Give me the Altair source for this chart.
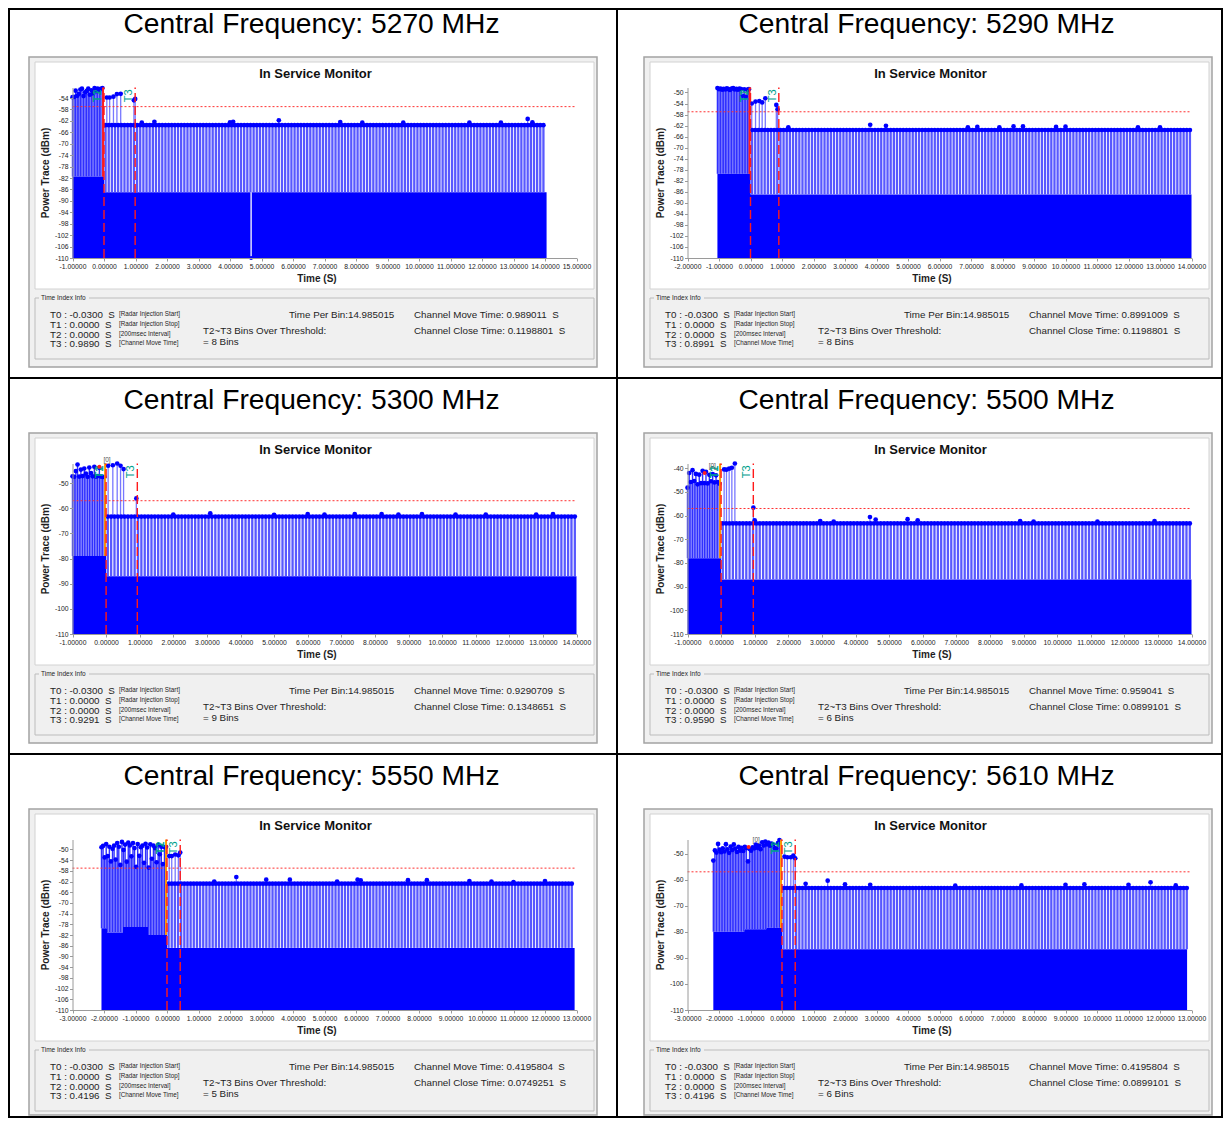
import altair as alt
import numpy as np
import pandas as pd

FONT = "Liberation Sans"

# ---------------- values ----------------
freqs = [5270, 5290, 5300, 5500, 5550, 5610]
x_min = [-1, -2, -1, -1, -3, -3]
x_max = [15, 14, 14, 14, 13, 13]
y_max = [-50.3, -48.2, -42.2, -38.0, -46.3, -44.6]
y_tick_top = [-54, -50, -50, -40, -50, -50]
y_tick_step = [4, 4, 10, 10, 4, 10]
threshold_dbm = -57.0
t0_time = -0.03
t1_time = 0.0
t2_time = 0.0
t3_time = [0.9890, 0.8991, 0.9291, 0.9590, 0.4196, 0.4196]
move_time = ["0.989011", "0.8991009", "0.9290709", "0.959041", "0.4195804", "0.4195804"]
close_time = ["0.1198801", "0.1198801", "0.1348651", "0.0899101", "0.0749251", "0.0899101"]
bins_over = [8, 8, 9, 6, 5, 6]
time_per_bin = "14.985015"

trace_start = [-1.0, -1.05, -1.0, -1.0, -2.08, -2.18]
trace_end = [14.05, 14.0, 14.0, 14.0, 12.94, 12.86]
pre_bin = 0.05
post_bin = 0.1

pre_tops = [
    [-53.7, -53.6, -51.4, -53.2, -52.5, -51.0, -50.7, -53.3, -52.0, -51.5,
     -50.7, -52.8, -51.3, -52.4, -50.5, -51.6, -50.7, -51.2, -50.8, -50.5],
    [-48.4, -48.8, -48.6, -49.0, -48.7, -48.9, -48.5, -48.8, -49.1, -48.6, -48.4,
     -48.9, -48.7, -49.0, -48.6, -48.8, -51.2, -48.9, -51.5, -49.0, -48.8],
    [-47.3, -47.5, -45.2, -42.6, -47.4, -44.6, -47.2, -44.2, -46.2, -47.5,
     -43.8, -46.0, -47.3, -43.5, -47.4, -47.2, -44.0, -47.4, -47.5, -47.6],
    [-48.2, -42.0, -45.8, -40.8, -45.4, -42.4, -46.8, -42.7, -46.3, -41.1,
     -46.3, -41.5, -46.4, -42.8, -45.5, -42.5, -46.0, -43.0, -45.8, -46.5],
    [-49.2, -48.7, -53.0, -48.0, -52.5, -49.0, -54.5, -49.8, -48.6, -53.8, -47.6,
     -49.0, -55.8, -47.2, -50.2, -48.2, -54.6, -47.5, -48.5, -52.6, -47.6,
     -49.5, -56.5, -48.0, -52.4, -49.2, -48.6, -55.0, -47.9, -49.3, -56.8,
     -48.1, -53.5, -48.6, -49.5, -54.8, -48.4, -51.8, -49.0, -55.5, -49.2, -49.0],
    [-52.7, -48.8, -49.6, -46.3, -48.5, -49.5, -48.0, -49.2, -46.4, -48.4, -49.7,
     -47.3, -48.6, -46.5, -48.1, -49.4, -47.4, -48.9, -47.8, -49.0, -47.4,
     -47.9, -53.0, -48.2, -48.9, -47.6, -48.0, -46.6, -47.8, -46.9, -48.3,
     -45.7, -46.9, -45.4, -46.5, -45.8, -47.0, -46.2, -46.7, -47.9, -48.1, -46.0, -44.8],
]

floor_edges = [
    [-1.0, 0.0, 14.05],
    [-1.05, 0.0, 14.0],
    [-1.0, 0.0, 14.0],
    [-1.0, 0.0, 14.0],
    [-2.08, -1.9, -1.4, -0.6, 0.0, 12.94],
    [-2.18, -1.2, -0.5, 0.0, 12.86],
]
floor_levels = [
    [-81.5, -87.0],
    [-79.5, -87.0],
    [-79.0, -87.0],
    [-78.0, -87.0],
    [-79.5, -81.0, -79.0, -82.0, -86.8],
    [-80.0, -79.0, -78.5, -86.7],
]
post_level = [-63.5, -63.6, -63.3, -63.3, -62.8, -63.2]

mid_t = [
    [0.09, 0.18, 0.30, 0.41, 0.53, 0.95, 0.99],
    [0.04, 0.16, 0.28, 0.37, 0.47, 0.82, 0.86],
    [0.06, 0.20, 0.33, 0.43, 0.52, 0.90],
    [0.09, 0.16, 0.24, 0.32, 0.41, 0.96],
    [0.07, 0.15, 0.26, 0.36, 0.42],
    [0.08, 0.17, 0.28, 0.36, 0.42],
]
mid_v = [
    [-53.8, -53.8, -53.5, -52.6, -52.5, -54.8, -54.3],
    [-54.0, -53.3, -53.1, -53.6, -52.1, -54.5, -56.1],
    [-43.1, -42.9, -42.2, -43.1, -44.4, -56.1],
    [-40.5, -40.6, -40.2, -39.8, -38.0, -56.6],
    [-52.5, -52.5, -51.9, -52.2, -51.2],
    [-51.2, -51.4, -51.4, -50.8, -51.8],
]
spike_t = [
    [1.2, 1.6, 4.0, 4.1, 5.55, 7.5, 8.2, 9.5, 11.6, 12.6, 13.45, 13.6],
    [1.2, 3.8, 4.3, 6.9, 7.2, 7.9, 8.35, 8.65, 9.7, 10.0, 12.3, 13.0],
    [2.0, 3.1, 5.0, 6.0, 6.5, 7.4, 8.2, 8.7, 9.4, 10.4, 11.3, 12.8, 13.3],
    [1.0, 2.95, 3.35, 4.43, 4.6, 5.55, 5.85, 8.9, 9.3, 11.2, 12.9],
    [1.5, 2.2, 3.15, 3.9, 5.4, 6.05, 6.15, 7.65, 8.25, 9.6, 10.3, 11.0, 12.0],
    [0.75, 1.45, 2.0, 2.8, 5.5, 7.6, 9.0, 9.6, 11.0, 11.7, 12.5],
]
spike_v = [
    [-62.6, -62.3, -62.5, -62.3, -61.8, -62.4, -62.6, -62.6, -62.6, -62.6, -61.3, -62.5],
    [-62.6, -61.7, -62.1, -62.6, -62.5, -62.6, -62.3, -62.3, -62.5, -62.4, -62.6, -62.6],
    [-62.5, -62.0, -62.6, -62.3, -62.5, -62.3, -62.3, -62.5, -62.3, -62.5, -62.5, -62.5, -62.3],
    [-62.0, -62.3, -62.5, -60.6, -61.7, -61.5, -62.0, -62.3, -62.5, -62.5, -62.3],
    [-62.0, -60.3, -61.3, -61.3, -62.0, -61.3, -61.6, -61.5, -61.5, -61.8, -62.0, -62.2, -61.8],
    [-61.6, -60.4, -61.8, -62.0, -62.3, -62.2, -62.0, -61.8, -62.0, -61.0, -62.2],
]
dropout_t = [[4.67], [], [], [], [], []]
zero_t = [None, None, -0.2, -0.49, None, -1.06]
zero_v = [None, None, -43.5, -42.0, None, -47.5]

bracket_notes = ["[Radar Injection Start]", "[Radar Injection Stop]",
                 "[200msec Interval]", "[Channel Move Time]"]

# ---------------- styling ----------------
T0_COLORS = ["#ff2020", "#ff2020", "#ff9a00", "#ff9a00", "#ff9a00", "#ff9a00"]
ONE = pd.DataFrame({"k": [0]})
MINUS = "\u2212"


def floor_at(i, t):
    e, lv = floor_edges[i], floor_levels[i]
    for k in range(len(lv)):
        if e[k] <= t < e[k + 1]:
            return lv[k]
    return lv[-1]


def make_cell(i, dx, dy, W, H, first_row, first_col):
    X0, X1 = 69.5 + dx, 573.5 + dx
    YB, YT = 256.0 + dy, 85.5 + dy
    xs = alt.Scale(domain=[x_min[i], x_max[i]], range=[X0, X1], nice=False, zero=False)
    ys = alt.Scale(domain=[-110, y_max[i]], range=[YB, YT], nice=False, zero=False)
    common = dict(title=None, grid=False, zindex=1, domainColor="#9a9a9a", tickColor="#9a9a9a",
                  tickSize=3, labelFont=FONT, labelFontSize=6.8, labelColor="#222222",
                  labelOverlap=False, labelFlush=False)
    xaxis = alt.Axis(values=list(range(x_min[i], x_max[i] + 1)),
                     labelExpr=f"replace(format(datum.value, '.5f'), '{MINUS}', '-')",
                     offset=YB - H, labelPadding=2, **common)
    yaxis = alt.Axis(values=list(range(-110, y_tick_top[i] + 1, y_tick_step[i])),
                     labelExpr=f"replace(format(datum.value, 'd'), '{MINUS}', '-')",
                     offset=-X0, labelPadding=1.5, **common)

    def X(f):
        return alt.X(f, type="quantitative", scale=xs, axis=xaxis)

    def Y(f):
        return alt.Y(f, type="quantitative", scale=ys, axis=yaxis)

    def rect(x1, y1, x2, y2, **kw):
        return alt.Chart(ONE).mark_rect(**kw).encode(
            x=alt.value(x1 + dx), x2=alt.value(x2 + dx),
            y=alt.value(y1 + dy), y2=alt.value(y2 + dy))

    def border(x1, y1, x2, y2):
        return alt.Chart(ONE).mark_rect(fill="#000000", strokeWidth=0).encode(
            x=alt.value(x1), x2=alt.value(x2), y=alt.value(y1), y2=alt.value(y2))

    def txt(s, x, y, size, **kw):
        base = dict(font=FONT, fontSize=size, align="left", baseline="middle", color="#1e1e1e")
        base.update(kw)
        return alt.Chart(ONE).mark_text(text=s, **base).encode(
            x=alt.value(x + dx), y=alt.value(y + dy))

    gray_bottom = min(365, H - 3 - dy)
    layers = [
        rect(26, 55, 594, gray_bottom, fill="#f0f0f0", stroke="#a3a3a3", strokeWidth=1.5),
        rect(32, 60, 591, 287, fill="#ffffff", stroke="#d2d2d2", strokeWidth=1),
        rect(32, 296, 591, 357, fillOpacity=0, stroke="#bcbcbc", strokeWidth=1),
        rect(36, 292, 86, 300, fill="#f0f0f0", strokeWidth=0),
        txt("Time Index Info", 38, 296, 6.5),
    ]

    # solid noise floor
    e, lv = floor_edges[i], floor_levels[i]
    floors = pd.DataFrame({"t": e, "lo": [-110.0] * len(e), "hi": lv + [lv[-1]]})
    layers.append(alt.Chart(floors).mark_area(color="#0000ff", interpolate="step-after", opacity=1).encode(
        x=X("t"), y=Y("hi"), y2=alt.Y2("lo")))

    # stems
    pre_t = [round(trace_start[i] + pre_bin * k, 3) for k in range(len(pre_tops[i]))]
    pre_df = pd.DataFrame({"t": pre_t, "lo": [floor_at(i, t) for t in pre_t], "hi": pre_tops[i]})
    post_t = np.round(np.arange(post_bin / 2, trace_end[i], post_bin), 3)
    post_df = pd.DataFrame({"t": post_t, "lo": floor_at(i, 1.0), "hi": post_level[i]})
    mid_df = pd.DataFrame({"t": mid_t[i], "lo": post_level[i], "hi": mid_v[i]})
    spk_df = pd.DataFrame({"t": spike_t[i], "lo": post_level[i], "hi": spike_v[i]})

    layers.append(alt.Chart(post_df).mark_rule(color="#5858ff", strokeWidth=2.3).encode(
        x=X("t"), y=Y("lo"), y2=alt.Y2("hi")))
    layers.append(alt.Chart(pre_df).mark_rule(color="#3030ff", strokeWidth=1.4).encode(
        x=X("t"), y=Y("lo"), y2=alt.Y2("hi")))
    layers.append(alt.Chart(pd.concat([mid_df, spk_df])).mark_rule(color="#7878ff", strokeWidth=1.3).encode(
        x=X("t"), y=Y("lo"), y2=alt.Y2("hi")))
    dots = pd.concat([post_df, pre_df, mid_df, spk_df])[["t", "hi"]]
    layers.append(alt.Chart(dots).mark_circle(color="#0000ff", size=22, opacity=1).encode(
        x=X("t"), y=Y("hi")))

    if dropout_t[i]:
        dd = pd.DataFrame({"t": dropout_t[i], "lo": -110.0, "hi": floor_at(i, 1.0)})
        layers.append(alt.Chart(dd).mark_rule(color="#ffffff", strokeWidth=1.3).encode(
            x=X("t"), y=Y("lo"), y2=alt.Y2("hi")))
        layers.append(alt.Chart(dd).mark_circle(color="#0000ff", size=15, opacity=1).encode(
            x=X("t"), y=Y("lo")))

    # threshold
    thr = pd.DataFrame({"a": [x_min[i]], "b": [x_max[i]], "v": [threshold_dbm]})
    layers.append(alt.Chart(thr).mark_rule(color="#ff3030", strokeDash=[2, 2], strokeWidth=1).encode(
        x=X("a"), x2=alt.X2("b"), y=Y("v")))

    # time index markers
    t0 = pd.DataFrame({"t": [t0_time], "lo": [floor_at(i, t0_time)], "hi": [y_max[i]]})
    layers.append(alt.Chart(t0).mark_rule(color=T0_COLORS[i], strokeWidth=2).encode(
        x=X("t"), y=Y("lo"), y2=alt.Y2("hi")))
    tl = pd.DataFrame({"t": [t2_time, t3_time[i]], "lo": [-110.0, -110.0], "hi": [y_max[i]] * 2})
    layers.append(alt.Chart(tl).mark_rule(color="#ff1a1a", strokeDash=[9, 4], strokeWidth=1.4).encode(
        x=X("t"), y=Y("lo"), y2=alt.Y2("hi")))
    labs = pd.DataFrame({"t": [t1_time, t2_time, t3_time[i]], "v": [y_max[i]] * 3,
                         "lab": ["T1", "T2", "T3"]})
    layers.append(alt.Chart(labs).mark_text(angle=270, align="right", baseline="bottom", dx=-2, dy=-1,
                                            fontSize=11, color="#00a08c", font=FONT).encode(
        x=X("t"), y=Y("v"), text="lab:N"))
    if zero_t[i] is not None:
        zd = pd.DataFrame({"t": [zero_t[i]], "v": [zero_v[i]], "lab": ["[0]"]})
        layers.append(alt.Chart(zd).mark_circle(color="#ff2020", size=16, opacity=1).encode(
            x=X("t"), y=Y("v")))
        layers.append(alt.Chart(zd).mark_text(fontSize=6.5, color="#555555", font=FONT, dx=4, dy=-7,
                                              align="left").encode(
            x=X("t"), y=Y("v"), text="lab:N"))

    # titles
    layers += [
        txt(f"Central Frequency: {freqs[i]} MHz", 308.5, 9.2, 28.2, align="center",
            baseline="top", color="#000000"),
        txt("In Service Monitor", 312.5, 72, 13, align="center", fontWeight="bold", color="#111111"),
        txt("Power Trace (dBm)", 43, 171, 10, align="center", fontWeight="bold", angle=270),
        txt("Time (S)", 314, 277, 10, align="center", fontWeight="bold"),
    ]

    # time index info
    t_lines = [f"T0 : {t0_time:.4f}\u00a0 S", f"T1 : {t1_time:.4f}\u00a0 S",
               f"T2 : {t2_time:.4f}\u00a0 S", f"T3 : {t3_time[i]:.4f}\u00a0 S"]
    ys_lines = [313, 323, 332.7, 342.3]
    for s, yy in zip(t_lines, ys_lines):
        layers.append(txt(s, 47, yy, 9.8))
    for s, yy in zip(bracket_notes, ys_lines):
        layers.append(txt(s, 116, yy - 1, 6.3))
    layers += [
        txt(f"Time Per Bin:{time_per_bin}", 286, 313, 9.8),
        txt("T2~T3 Bins Over Threshold:", 200, 329, 9.8),
        txt(f"= {bins_over[i]} Bins", 200, 339.7, 9.8),
        txt(f"Channel Move Time: {move_time[i]}\u00a0 S", 411, 313, 9.8),
        txt(f"Channel Close Time: {close_time[i]}\u00a0 S", 411, 329, 9.8),
    ]

    # table borders, kept inside the cell
    layers.append(border(W - 2, 0, W, H))
    layers.append(border(0, H - 2, W, H))
    if first_row:
        layers.append(border(0, 0, W, 2))
    if first_col:
        layers.append(border(0, 0, 2, H))
    return alt.layer(*layers).properties(width=W, height=H)


col_w = [610, 605]
row_h = [371, 376, 363]
col_dx = [-5, 0]
row_dy = [-6, -1, -1]

cells = []
for i in range(6):
    r, c = divmod(i, 2)
    cells.append(make_cell(i, col_dx[c], row_dy[r], col_w[c], row_h[r], r == 0, c == 0))

chart = (
    alt.concat(*cells, columns=2, spacing=0, bounds="flush")
    .properties(padding=0, background="white")
    .configure_view(strokeWidth=0)
)

chart.save("out.html", embed_options={"renderer": "svg", "actions": False})
